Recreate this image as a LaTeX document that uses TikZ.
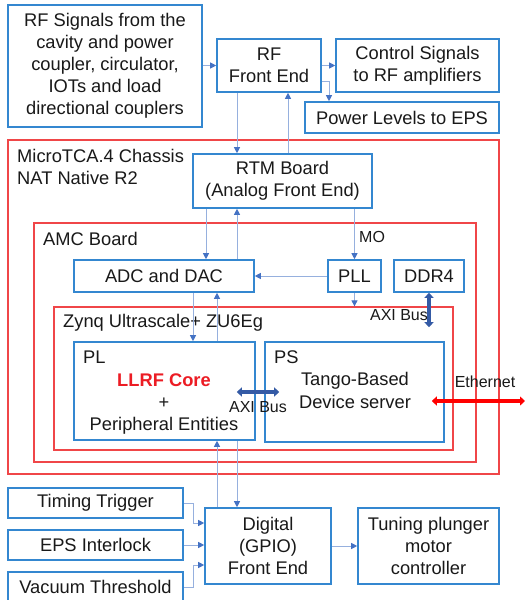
\documentclass[tikz,border=0pt]{standalone}
\usepackage{fontspec}
\setmainfont{Liberation Sans}
\usetikzlibrary{arrows.meta,calc}
\definecolor{boxblue}{RGB}{52,135,208}
\definecolor{linkblue}{RGB}{150,176,222}
\definecolor{tipblue}{RGB}{68,114,196}
\definecolor{framered}{RGB}{240,70,72}
\definecolor{busblue}{RGB}{52,90,165}
\definecolor{ink}{RGB}{25,25,25}
\definecolor{corered}{RGB}{236,28,36}
\begin{document}
\begin{tikzpicture}[x=1pt,y=-1pt,
  every node/.style={text=ink, font=\fontsize{18.3}{22}\selectfont},
  box/.style={draw=boxblue, line width=1.6pt, fill=white, inner sep=0pt, align=center},
  frame/.style={draw=framered, line width=1.3pt, inner sep=0pt},
  conn/.style={draw=linkblue, line width=1pt, -{Triangle[length=6pt,width=6pt,color=tipblue]}},
  bus/.style={draw=busblue, line width=3.5pt, {Triangle[length=5pt,width=9pt]}-{Triangle[length=5pt,width=9pt]}},
  ethline/.style={draw=red, line width=3.6pt, {Triangle[length=5pt,width=9pt]}-{Triangle[length=5pt,width=9pt]}},
  small/.style={font=\fontsize{16}{19}\selectfont, inner sep=0pt},
  label/.style={inner sep=0pt, align=left}]

\useasboundingbox (0,0) rectangle (525,600);
\fill[white] (0,0) rectangle (525,600);

% nested hardware frames
\node[frame, minimum width=491pt, minimum height=334pt] (chassis) at (253.5,307) {};
\node[frame, minimum width=442pt, minimum height=239pt] (amc) at (255,342.5) {};
\node[frame, minimum width=399pt, minimum height=143pt] (zynq) at (253.5,378.5) {};
\node[label, anchor=north west] at (17,149.5) {MicroTCA.4 Chassis\\NAT Native R2};
\node[label, anchor=north west] at (43,232.5) {AMC Board};
\node[label, anchor=base west] at (63,327) {Zynq Ultrascale+ ZU6Eg};

% signal sources and RF front end
\node[box, minimum width=194pt, minimum height=122pt] (src) at (105,66)
  {RF Signals from the\\cavity and power\\coupler, circulator,\\IOTs and load\\directional couplers};
\node[box, minimum width=104pt, minimum height=53pt] (rffe) at (269,65.5) {RF\\Front End};
\node[box, minimum width=163pt, minimum height=53pt] (ctrl) at (417.5,65.5) {Control Signals\\to RF amplifiers};
\node[box, minimum width=194pt, minimum height=31pt] (power) at (402,117.5) {Power Levels to EPS};

% chassis contents
\node[box, minimum width=179pt, minimum height=54pt] (rtm) at (282.5,181) {RTM Board\\(Analog Front End)};
\node[box, minimum width=180pt, minimum height=32pt] (adc) at (164,276) {ADC and DAC};
\node[box, minimum width=53pt, minimum height=32pt] (pll) at (354.5,276) {PLL};
\node[box, minimum width=70pt, minimum height=32pt] (ddr) at (429,276) {DDR4};
\node[box, minimum width=181pt, minimum height=98pt] (pl) at (164.5,391) {};
\node[box, minimum width=179pt, minimum height=100pt] (ps) at (354.5,392) {};

% texts inside PL and PS (base anchor = baseline of the last line)
\node[label, anchor=base west] at (83,363) {PL};
\node[label, anchor=base, align=center] at (164,430)
  {\textcolor{corered}{\bfseries LLRF Core}\\+\\Peripheral Entities};
\node[label, anchor=base west] at (274,363) {PS};
\node[label, anchor=base, align=center, font=\fontsize{18.3}{23}\selectfont] at (355,408)
  {Tango-Based\\Device server};

% digital front end and its inputs
\node[box, minimum width=126pt, minimum height=76pt] (dig) at (268,546) {Digital\\(GPIO)\\Front End};
\node[box, minimum width=141pt, minimum height=76pt] (tune) at (428.5,546) {Tuning plunger\\motor\\controller};
\node[box, minimum width=175pt, minimum height=30pt] (timing) at (95.5,503) {Timing Trigger};
\node[box, minimum width=175pt, minimum height=30pt] (eps) at (95.5,545) {EPS Interlock};
\node[box, minimum width=175pt, minimum height=30pt] (vac) at (95.5,587) {Vacuum Threshold};

% helper points for parallel signal lines
\coordinate (c1) at ($(rffe.south)+(-32,0)$);
\coordinate (c2) at ($(rtm.north)+(5.5,0)$);
\coordinate (c3) at ($(rtm.south)+(-76.5,0)$);
\coordinate (c4) at ($(adc.north)+(73,0)$);
\coordinate (c7) at ($(adc.south)+(29,0)$);
\coordinate (c8) at ($(pl.north)+(52.5,0)$);
\coordinate (c12) at ($(dig.north)+(-51,0)$);
\coordinate (c13) at ($(dig.north)+(-31,0)$);
\coordinate (axiL) at ($(pl.east)+(-19,1)$);
\coordinate (axiR) at ($(ps.west)+(15,0)$);
\coordinate (ddrEnd) at ($(ps.north)+(75,-14)$);
\coordinate (ethIn) at ($(ps.east)+(-13,9)$);
\coordinate (ethOut) at (525,401);

% RF connections
\draw[conn] (rffe.west -| src.east) -- (rffe.west);
\draw[conn] (rffe.east) -- (ctrl.west);
\draw[conn] ($(rffe.east)+(0,15.5)$) -| ($(power.north)+(-73,0)$);
\draw[conn] (c1) -- (c1 |- rtm.north);
\draw[conn] (c2) -- (c2 |- rffe.south);
\draw[conn] (c3) -- (c3 |- adc.north);
\draw[conn] (c4) -- (c4 |- rtm.south);
\draw[conn] (pll.north |- rtm.south) -- (pll.north);
\node[small, anchor=west] at (359,237) {MO};
\draw[conn] (pll.west) -- (adc.east);
\draw[conn] (pll.south) -- (pll.south |- zynq.north);
\draw[conn] (c7) -- (c7 |- pl.north);
\draw[conn] (c8) -- (c8 |- adc.south);

% buses
\draw[bus] (ddr.south) -- (ddr.south |- ddrEnd);
\node[small] at (399,315) {AXI Bus};
\draw[bus] (axiL) -- (axiR);
\node[small] at (258,407) {AXI Bus};
\draw[ethline] (ethIn) -- (ethOut);
\node[small] at (485,382) {Ethernet};

% digital I/O
\draw[conn] (c12) -- (c12 |- pl.south);
\draw[conn] (c13 |- pl.south) -- (c13);
\draw[conn] (timing.east) -- ++(10,0) |- ($(dig.west)+(0,-23)$);
\draw[conn] (eps.east) -- (eps.east -| dig.west);
\draw[conn] (vac.east) -- ++(10,0) |- ($(dig.west)+(0,19)$);
\draw[conn] (dig.east) -- (tune.west);
\end{tikzpicture}
\end{document}
